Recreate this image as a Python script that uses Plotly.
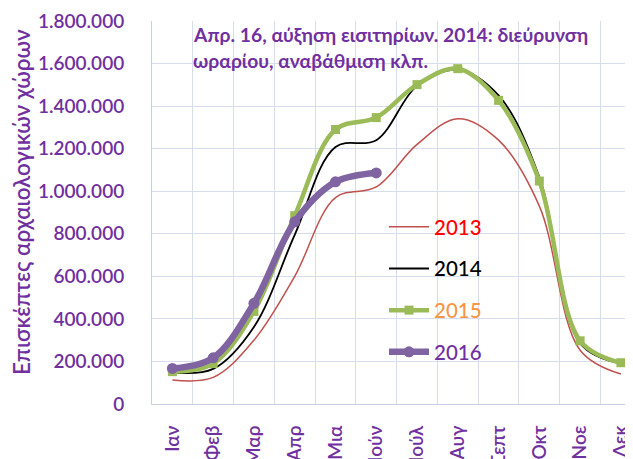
import plotly.graph_objects as go

months = ["Ιαν", "Φεβ", "Μαρ", "Απρ", "Μια", "Ιούν", "Ιούλ", "Αυγ", "Σεπτ", "Οκτ", "Νοε", "Δεκ"]
v2013 = [113000, 125000, 300000, 600000, 970000, 1020000, 1220000, 1341000, 1240000, 930000, 253000, 141000]
v2014 = [148000, 165000, 362000, 795000, 1208000, 1240000, 1495000, 1570000, 1450000, 1067000, 285000, 190000]
v2015 = [152000, 190000, 435000, 885000, 1290000, 1346000, 1501000, 1576000, 1427000, 1048000, 297000, 194000]
v2016 = [167000, 217000, 473000, 856000, 1044000, 1086000]
y_ticks = [0, 200000, 400000, 600000, 800000, 1000000, 1200000, 1400000, 1600000, 1800000]

PURPLE = "#7030A0"
FONT = "Lato, 'Noto Sans', sans-serif"
GRID = "#D6DEEC"
AXLINE = "#C8D1E0"

# page body has an 8px margin: figure is sized so the plot lands where the reference has it
OFF = 8
PL, PT, PB = 152, 21, 404  # plot area in window pixels
W, H = 633 - OFF, 459 - OFF
PW, PH = 633 - PL, PB - PT

fig = go.Figure()
fig.add_trace(go.Scatter(x=months, y=v2013, mode="lines", line=dict(color="#C0504D", width=1.5, shape="spline", smoothing=1),
                         name="<span style='color:#FF0000'>2013</span>", legendgroup="a"))
fig.add_trace(go.Scatter(x=months, y=v2014, mode="lines", line=dict(color="#000000", width=1.8, shape="spline", smoothing=1),
                         name="<span style='color:#000000'>2014</span>", legendgroup="b"))
fig.add_trace(go.Scatter(x=months, y=v2015, mode="lines+markers", line=dict(color="#9BBB59", width=4.5, shape="spline", smoothing=1),
                         marker=dict(symbol="square", size=9, color="#9BBB59"),
                         name="<span style='color:#F79646'>2015</span>", legendgroup="c"))
fig.add_trace(go.Scatter(x=months[:len(v2016)], y=v2016, mode="lines+markers", line=dict(color="#8064A2", width=6.5, shape="spline", smoothing=1),
                         marker=dict(symbol="circle", size=11, color="#8064A2"),
                         name="<span style='color:#7030A0'>2016</span>", legendgroup="d"))

fig.update_layout(
    template="none",
    width=W, height=H,
    margin=dict(l=PL - OFF, r=0, t=PT - OFF, b=459 - PB, autoexpand=False),
    paper_bgcolor="white", plot_bgcolor="white",
    separators=",.",
    font=dict(family=FONT, color=PURPLE),
    showlegend=True,
    legend=dict(x=(384 - PL) / PW, y=(PB - 207) / PH, xanchor="left", yanchor="top", bgcolor="rgba(0,0,0,0)",
                font=dict(size=20.5, family=FONT, weight=500), tracegroupgap=12, itemwidth=40),
    xaxis=dict(type="category", categoryorder="array", categoryarray=months, range=[-0.5, 11.297],
               tickson="boundaries", showgrid=True, gridcolor=GRID, gridwidth=1, automargin=False,
               showline=True, linecolor=AXLINE, linewidth=1, ticks="", tickangle=-90, ticklabelstandoff=13,
               ticklabeloverflow="allow",
               tickfont=dict(size=19, color=PURPLE, family=FONT, weight=600)),
    yaxis=dict(range=[0, 1800000], tickvals=y_ticks, tickformat=",d", showgrid=True, gridcolor=GRID,
               gridwidth=1, showline=True, linecolor=AXLINE, linewidth=1, zeroline=False, ticks="", automargin=False,
               ticklabelstandoff=23, ticklabeloverflow="allow",
               tickfont=dict(size=19, color=PURPLE, family=FONT, weight=600)),
)

fig.add_annotation(text="Επισκέπτες αρχαιολογικών χώρων", xref="paper", yref="paper",
                   x=(21 - PL) / PW, y=(PB - 202) / PH,
                   xanchor="center", yanchor="middle", textangle=-90, showarrow=False,
                   font=dict(size=22.5, color=PURPLE, family=FONT, weight=600))
fig.add_annotation(text="<b>Απρ. 16, αύξηση εισιτηρίων. 2014: διεύρυνση</b>", xref="paper", yref="paper",
                   x=(191 - PL) / PW, y=(PB - 35) / PH, xanchor="left", yanchor="middle", showarrow=False,
                   font=dict(size=19.3, color=PURPLE, family=FONT))
fig.add_annotation(text="<b>ωραρίου, αναβάθμιση κλπ.</b>", xref="paper", yref="paper",
                   x=(191 - PL) / PW, y=(PB - 61) / PH, xanchor="left", yanchor="middle", showarrow=False,
                   font=dict(size=19.3, color=PURPLE, family=FONT))

fig.write_html("out.html")
